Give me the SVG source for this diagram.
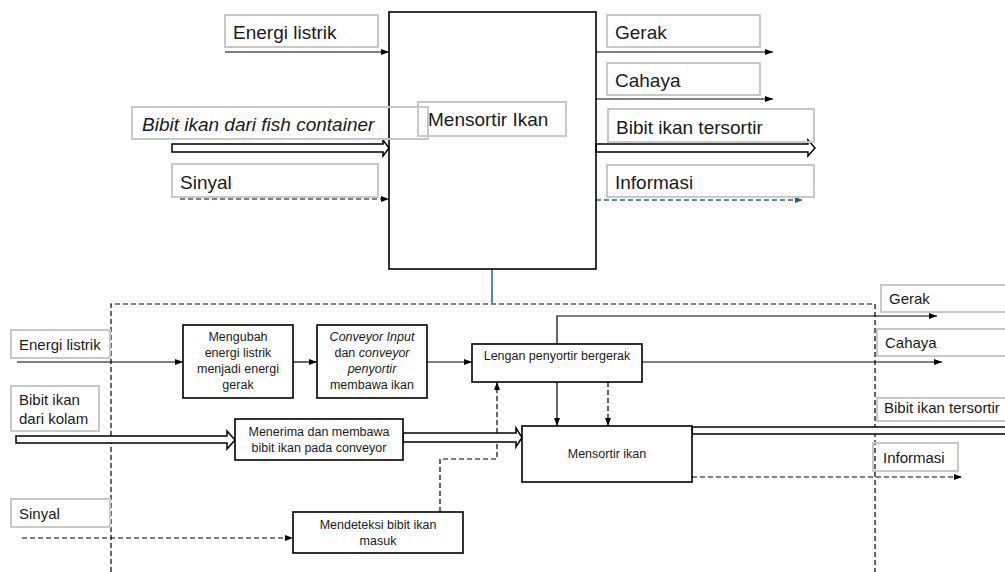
<svg xmlns="http://www.w3.org/2000/svg" width="1005" height="572" viewBox="0 0 1005 572">
<style>
text{font-family:"Liberation Sans",Arial,sans-serif;fill:#1a1a1a}
.lbl{fill:none;stroke:#c8c8c8;stroke-width:2}
.big{font-size:19px}
.mid{font-size:15px}
.sm{font-size:12.5px;text-anchor:middle}
.box{fill:#fff;stroke:#000;stroke-width:1.6}
.ln{fill:none;stroke:#000;stroke-width:1.2}
.dash{stroke-dasharray:5,3}
.hol{fill:#fff;stroke:#000;stroke-width:1.5;stroke-linejoin:miter}
.blue{fill:none;stroke:#21628f;stroke-width:1.5}
</style>
<defs>
<marker id="ah" viewBox="0 0 8 6" refX="8" refY="3" markerWidth="8" markerHeight="6" markerUnits="userSpaceOnUse" orient="auto"><path d="M0,0L8,3L0,6z" fill="#000"/></marker>
<marker id="ahb" viewBox="0 0 8 6" refX="8" refY="3" markerWidth="8" markerHeight="6" markerUnits="userSpaceOnUse" orient="auto"><path d="M0,0L8,3L0,6z" fill="#21628f"/></marker>
</defs>

<g id="connectors">
<path class="ln" d="M225,52H389" marker-end="url(#ah)"/>
<path class="ln dash" d="M180,199H389" marker-end="url(#ah)"/>
<path class="hol" d="M172,144H383V140L389,148L383,156V152H172Z"/>
<path class="ln" d="M596,52H773" marker-end="url(#ah)"/>
<path class="ln" d="M596,99H773" marker-end="url(#ah)"/>
<path class="hol" d="M596,144H808V140L815,148L808,156V152H596Z"/>
<path class="blue dash" d="M596,200H803" marker-end="url(#ahb)"/>
<path class="blue" d="M492,269V303"/>

<path class="ln dash" d="M111,572V304H875V572" stroke-width="1.5"/>

<path class="ln" d="M17,362H183" marker-end="url(#ah)"/>
<path class="ln" d="M293,362H317" marker-end="url(#ah)"/>
<path class="ln" d="M427,362H472" marker-end="url(#ah)"/>
<path class="ln" d="M557,344V316H937" marker-end="url(#ah)"/>
<path class="ln" d="M642,362H942" marker-end="url(#ah)"/>
<path class="ln" d="M557,382V426" marker-end="url(#ah)"/>
<path class="ln dash" d="M608,382V426" marker-end="url(#ah)"/>
<path class="ln dash" d="M440,512V459H497V382" marker-end="url(#ah)"/>
<path class="ln dash" d="M22,538H293" marker-end="url(#ah)"/>
<path class="ln dash" d="M692,477H962" marker-end="url(#ah)"/>
<path class="hol" d="M16,436H227V431L235,440L227,449V443H16Z"/>
<path class="hol" d="M403,433H516V428L522,437.5L516,447V442H403Z"/>
<path class="hol" d="M692,427H1010V434H692Z"/>
</g>

<g id="main">
<rect x="389" y="12" width="207" height="257" fill="none" stroke="#000" stroke-width="1.6"/>
</g>

<g id="top-labels">
<rect class="lbl" x="225" y="15" width="153" height="32"/>
<text class="big" x="233" y="39">Energi listrik</text>
<rect class="lbl" x="132" y="107" width="296" height="32"/>
<text class="big" x="142" y="131" font-style="italic">Bibit ikan dari fish container</text>
<rect class="lbl" x="172" y="164" width="206" height="33"/>
<text class="big" x="180" y="189">Sinyal</text>
<rect class="lbl" x="418" y="102" width="148" height="34"/>
<text class="big" x="428" y="126">Mensortir Ikan</text>
<rect class="lbl" x="607" y="15" width="153" height="32"/>
<text class="big" x="615" y="39">Gerak</text>
<rect class="lbl" x="607" y="63" width="153" height="32"/>
<text class="big" x="615" y="87">Cahaya</text>
<rect class="lbl" x="608" y="109" width="206" height="33"/>
<text class="big" x="616" y="134">Bibit ikan tersortir</text>
<rect class="lbl" x="607" y="165" width="207" height="32"/>
<text class="big" x="615" y="189">Informasi</text>
</g>

<g id="bottom-labels">
<rect class="lbl" x="11" y="330" width="99" height="28"/>
<text class="mid" x="19" y="350">Energi listrik</text>
<rect class="lbl" x="11" y="386" width="88" height="45"/>
<text class="mid" x="19" y="405">Bibit ikan</text>
<text class="mid" x="19" y="424">dari kolam</text>
<rect class="lbl" x="11" y="499" width="99" height="28"/>
<text class="mid" x="19" y="519">Sinyal</text>
<rect class="lbl" x="881" y="285" width="130" height="27"/>
<text class="mid" x="889" y="304">Gerak</text>
<rect class="lbl" x="877" y="329" width="134" height="27"/>
<text class="mid" x="885" y="348">Cahaya</text>
<rect class="lbl" x="877" y="398" width="134" height="23"/>
<text class="mid" x="884" y="413">Bibit ikan tersortir</text>
<rect class="lbl" x="873" y="443" width="85" height="28"/>
<text class="mid" x="883" y="463">Informasi</text>
</g>

<g id="n-ubah">
<rect class="box" x="183" y="325" width="110" height="73"/>
<text class="sm" x="238" y="341">Mengubah</text>
<text class="sm" x="238" y="357">energi listrik</text>
<text class="sm" x="238" y="373">menjadi energi</text>
<text class="sm" x="238" y="389">gerak</text>
</g>
<g id="n-conveyor">
<rect class="box" x="317" y="325" width="110" height="73"/>
<text class="sm" x="372" y="341" font-style="italic">Conveyor Input</text>
<text class="sm" x="372" y="357">dan <tspan font-style="italic">conveyor</tspan></text>
<text class="sm" x="372" y="373" font-style="italic">penyortir</text>
<text class="sm" x="372" y="389">membawa ikan</text>
</g>
<g id="n-lengan">
<rect class="box" x="472" y="344" width="170" height="38"/>
<text class="sm" x="557" y="360">Lengan penyortir bergerak</text>
</g>
<g id="n-menerima">
<rect class="box" x="235" y="419" width="168" height="41"/>
<text class="sm" x="319" y="436">Menerima dan membawa</text>
<text class="sm" x="319" y="452">bibit ikan pada conveyor</text>
</g>
<g id="n-sortir">
<rect class="box" x="522" y="426" width="170" height="56"/>
<text class="sm" x="607" y="458">Mensortir ikan</text>
</g>
<g id="n-deteksi">
<rect class="box" x="293" y="512" width="170" height="41"/>
<text class="sm" x="378" y="529">Mendeteksi bibit ikan</text>
<text class="sm" x="378" y="545">masuk</text>
</g>
</svg>
